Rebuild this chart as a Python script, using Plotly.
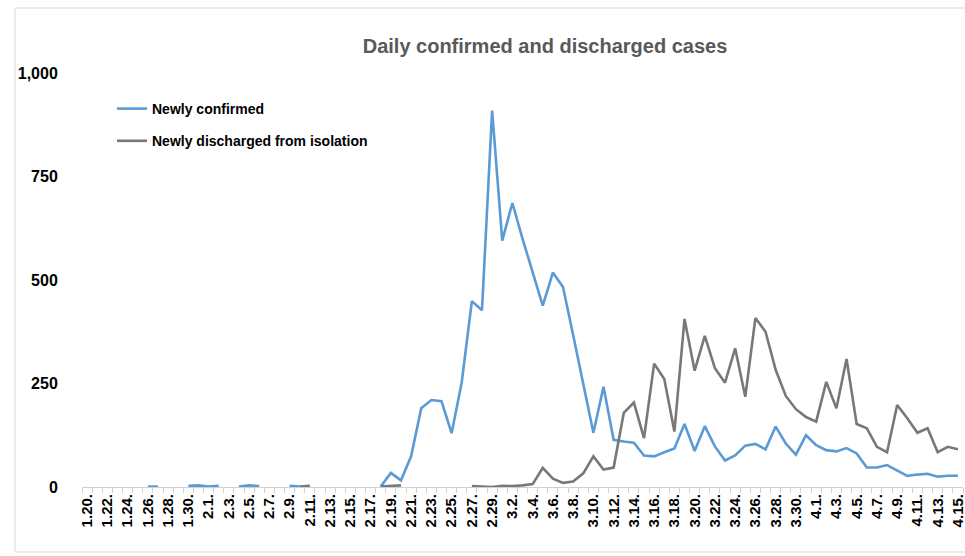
import plotly.graph_objects as go

dates = ["1.20.", "1.21.", "1.22.", "1.23.", "1.24.", "1.25.", "1.26.", "1.27.", "1.28.", "1.29.",
         "1.30.", "1.31.", "2.1.", "2.2.", "2.3.", "2.4.", "2.5.", "2.6.", "2.7.", "2.8.",
         "2.9.", "2.10.", "2.11.", "2.12.", "2.13.", "2.14.", "2.15.", "2.16.", "2.17.", "2.18.",
         "2.19.", "2.20.", "2.21.", "2.22.", "2.23.", "2.24.", "2.25.", "2.26.", "2.27.", "2.28.",
         "2.29.", "3.1.", "3.2.", "3.3.", "3.4.", "3.5.", "3.6.", "3.7.", "3.8.", "3.9.",
         "3.10.", "3.11.", "3.12.", "3.13.", "3.14.", "3.15.", "3.16.", "3.17.", "3.18.", "3.19.",
         "3.20.", "3.21.", "3.22.", "3.23.", "3.24.", "3.25.", "3.26.", "3.27.", "3.28.", "3.29.",
         "3.30.", "3.31.", "4.1.", "4.2.", "4.3.", "4.4.", "4.5.", "4.6.", "4.7.", "4.8.",
         "4.9.", "4.10.", "4.11.", "4.12.", "4.13.", "4.14.", "4.15."]

newly_confirmed = [1, None, None, None, 1, None, 1, 1, None, None,
                   3, 4, 1, 3, None, 1, 4, 2, None, None,
                   3, 1, None, None, None, None, None, 2, None, 1,
                   34, 16, 74, 190, 210, 207, 130, 253, 449, 427,
                   909, 595, 686, 600, 516, 438, 518, 483, 367, 248,
                   131, 242, 114, 110, 107, 76, 74, 84, 93, 152,
                   87, 147, 98, 64, 76, 100, 104, 91, 146, 105,
                   78, 125, 101, 89, 86, 94, 81, 47, 47, 53,
                   39, 27, 30, 32, 25, 27, 27]

newly_discharged = [None, None, None, None, None, None, None, None, None, None,
                    None, None, None, None, None, None, None, None, None, None,
                    None, 1, 3, None, None, None, None, None, None, 1,
                    2, 4, None, None, None, None, None, None, 2, 1,
                    0, 3, 2, 4, 7, 46, 20, 10, 13, 33,
                    74, 42, 47, 179, 204, 118, 298, 261, 134, 406,
                    281, 365, 287, 252, 335, 218, 408, 375, 283, 220,
                    188, 169, 158, 254, 190, 309, 152, 142, 97, 84,
                    198, 166, 131, 142, 84, 97, 91]

y_ticks = [0, 250, 500, 750, 1000]
y_tick_text = ["0", "250", "500", "750", "1,000"]

FONT = "Liberation Sans, Arial, sans-serif"

fig = go.Figure()
fig.add_trace(go.Scatter(x=dates, y=newly_confirmed, mode="lines", name="Newly confirmed",
                         line=dict(color="#5b9bd5", width=2.6), connectgaps=False,
                         legendgroup="a"))
fig.add_trace(go.Scatter(x=dates, y=newly_discharged, mode="lines",
                         name="Newly discharged from isolation",
                         line=dict(color="#787878", width=2.6), connectgaps=False,
                         legendgroup="b"))

L, R, T, B = 82, 2, 73, 69
W, H = 965, 556
pw = W - L - R
ph = H - T - B

fig.update_layout(
    width=W, height=H,
    margin=dict(l=L, r=R, t=T, b=B, autoexpand=False),
    paper_bgcolor="white", plot_bgcolor="white",
    font=dict(family=FONT, color="black"),
    title=dict(text="Daily confirmed and discharged cases", x=545 / W, xref="container",
               xanchor="center", y=1 - 46 / H, yref="container", yanchor="middle",
               font=dict(family=FONT, size=20, color="#595959", weight="bold")),
    showlegend=True,
    legend=dict(x=(112 - L) / pw, xanchor="left", y=(487 - 93) / ph, yanchor="top",
                bgcolor="rgba(0,0,0,0)", font=dict(family=FONT, size=14, color="black", weight="bold"),
                tracegroupgap=11, itemwidth=30),
    xaxis=dict(type="category", categoryorder="array", categoryarray=dates,
               range=[-0.5, len(dates) - 0.5], showgrid=False, zeroline=False,
               showline=True, linecolor="#d0d0d0", linewidth=1,
               tickmode="linear", tick0=0, dtick=1,
               ticks="outside", tickson="boundaries", ticklen=5, tickcolor="#d0d0d0",
               ticklabelstep=2, tickangle=-90,
               tickfont=dict(family=FONT, size=15, color="black", weight="bold")),
    yaxis=dict(range=[0, 1000], tickvals=y_ticks, ticktext=y_tick_text, showgrid=False,
               zeroline=False, showline=False, ticks="outside", ticklen=20,
               tickcolor="rgba(0,0,0,0)",
               tickfont=dict(family=FONT, size=16, color="black", weight="bold")),
    shapes=[dict(type="rect", xref="paper", yref="paper",
                 x0=(15 - L) / pw, x1=(990 - L) / pw,
                 y0=(487 - 552) / ph, y1=(487 - 8) / ph,
                 line=dict(color="#d9d9d9", width=1), fillcolor="rgba(0,0,0,0)", layer="below")],
)

fig.write_html("out.html", config={"displayModeBar": False},
               post_script="document.body.style.margin='0';")
